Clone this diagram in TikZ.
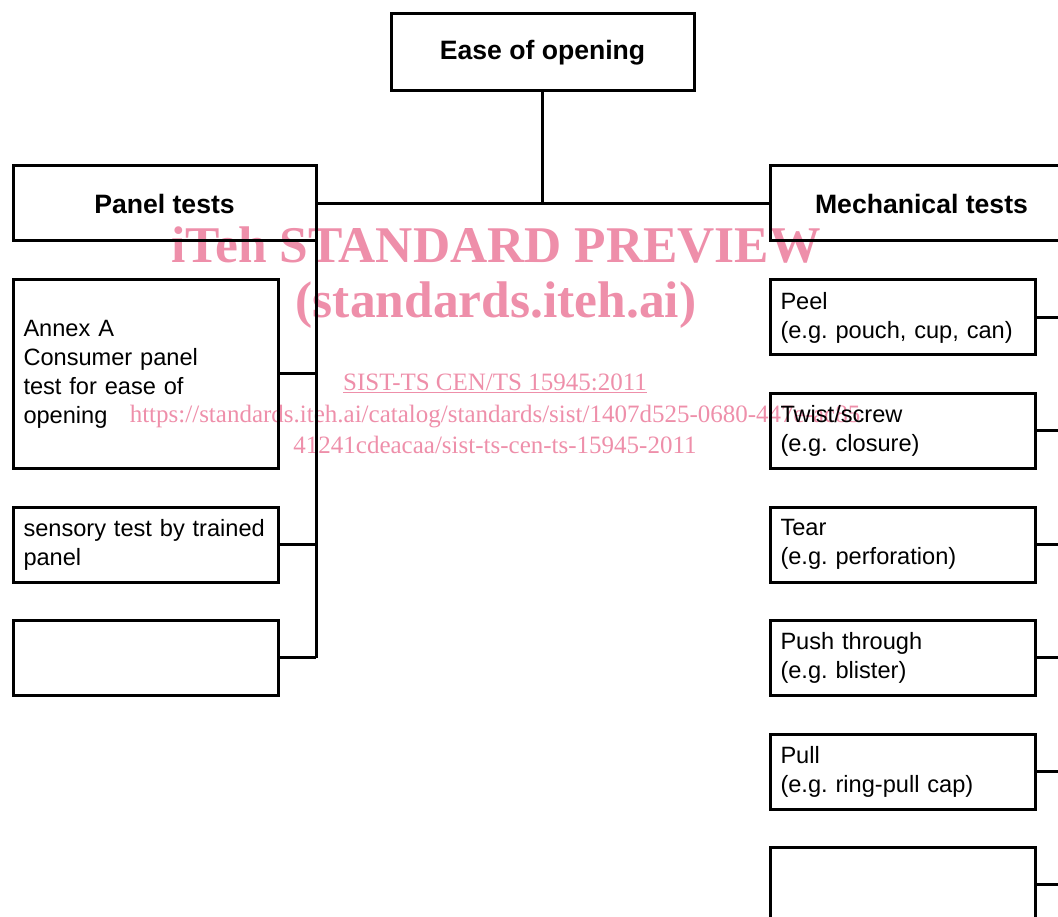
\documentclass[tikz,border=0pt]{standalone}
\usepackage{fontspec}
\setmainfont{Liberation Sans}
\newfontfamily\wmfont{Liberation Serif}

\definecolor{wmpink}{RGB}{238,143,170}

\tikzset{
	box/.style={draw, rectangle, line width=3pt, inner sep=0pt, outer sep=0pt,
		minimum height=75pt, font=\frenchspacing\fontsize{23.6}{29}\selectfont},
	headbox/.style={box, minimum width=303pt,
		font=\bfseries\fontsize{26.6}{31}\selectfont},
	leafbox/.style={box, minimum width=265pt, text width=244pt,
		align=left, anchor=north west},
	link/.style={line width=3pt},
	wmark/.style={text=wmpink, inner sep=0pt, align=center}
}

\begin{document}
\begin{tikzpicture}[x=1pt, y=-1pt]
			\useasboundingbox (0,0) rectangle (1058,917);
			\clip (0,0) rectangle (1058,917);
			% preview stamp, under the chart
			\node[wmark, font=\wmfont\bfseries\fontsize{51.5}{52}\selectfont]
				(wmtitle) at (496,245) {iTeh STANDARD PREVIEW};
			\node[wmark, font=\wmfont\bfseries\fontsize{51.5}{52}\selectfont]
				(wmsite) at (496,305) {(standards.iteh.ai)};
			\node[wmark, font=\wmfont\fontsize{25}{31.5}\selectfont]
				(wmref) at (495,414) {\underline{SIST-TS CEN/TS 15945:2011}\\
				https://standards.iteh.ai/catalog/standards/sist/1407d525-0680-447e-ac85\\
				41241cdeacaa/sist-ts-cen-ts-15945-2011};
			% headings
			\node[headbox, minimum height=77pt] (ease) at (542.5,52.5) {Ease of opening};
			\node[headbox] (panel) at (164.5,203.5) {Panel tests};
			\node[headbox] (mech) at (921.5,203.5) {Mechanical tests};
			% panel tests
			\node[leafbox, minimum height=188pt] (annex) at (13,280)
				{Annex A\\Consumer panel\\test for ease of\\opening};
			\node[leafbox] (sensory) at (13,507) {\mbox{sensory test by trained}\\panel};
			\node[leafbox] (panelx) at (13,620) {};
			% mechanical tests
			\node[leafbox] (peel) at (770,280) {Peel\\(e.g. pouch, cup, can)};
			\node[leafbox] (twist) at (770,393) {Twist/screw\\(e.g. closure)};
			\node[leafbox] (tear) at (770,507) {Tear\\(e.g. perforation)};
			\node[leafbox] (push) at (770,620) {Push through\\(e.g. blister)};
			\node[leafbox] (pull) at (770,734) {Pull\\(e.g. ring-pull cap)};
			\node[leafbox] (mechx) at (770,847) {};
			% connectors
			\draw[link] (ease.south) -- (ease.south |- panel.east);
			\draw[link] (panel.east) -- (mech.west);
			\draw[link] (panel.east) -- (panel.east |- panelx.east);
			\foreach \n in {annex,sensory,panelx}
				\draw[link] (\n.east) -- (\n.east -| panel.east);
			\foreach \n in {peel,twist,tear,push,pull,mechx}
				\draw[link] (\n.east) -- (\n.east -| mech.east);
		\end{tikzpicture}
\end{document}
